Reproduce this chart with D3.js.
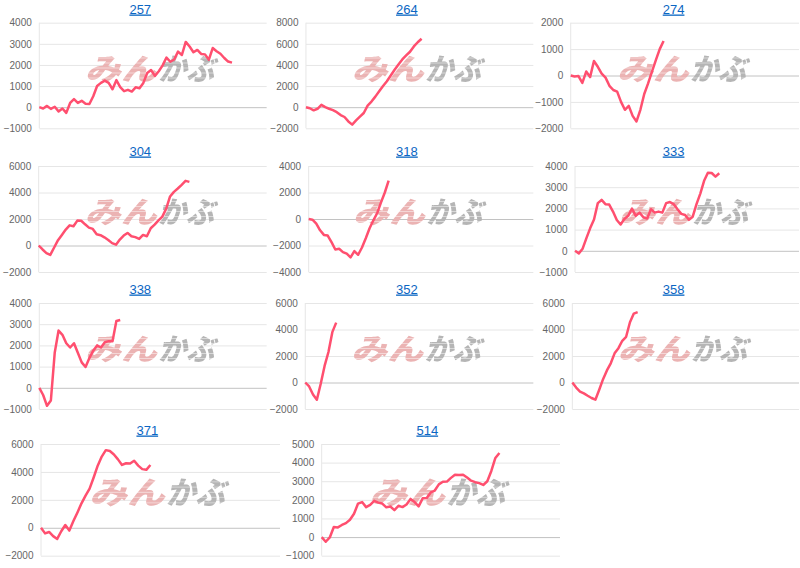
<!DOCTYPE html>
<html>
<head>
<meta charset="utf-8">
<script src="https://cdn.jsdelivr.net/npm/d3@7"></script>
<style>
body { margin: 0; background: #fff; }
svg { display: block; font-family: "Liberation Sans", Arial, sans-serif; }
</style>
</head>
<body>
<svg id="chart" width="800" height="568"></svg>
<script>
// titles of the small charts, left to right, top to bottom
var titles = ["257", "264", "274", "304", "318", "333", "338", "352", "358", "371", "514"];

// number of x slots shared by every chart
var slotCount = 60;

// cumulative values, one per slot
var s257 = [0, -60, 60, -80, 20, -200, -60, -270, 200, 380, 200, 300, 160, 150, 520, 1000, 1150, 1260, 1150, 850,
    1280, 950, 760, 820, 740, 940, 900, 1150, 1620, 1760, 1480, 1700, 1980, 2350, 2150, 2260, 2630, 2470, 3090, 2870,
    2600, 2710, 2520, 2500, 2250, 2800, 2650, 2530, 2330, 2160, 2110];
var s264 = [0, -100, -300, -150, 220, 0, -150, -280, -470, -750, -930, -1350, -1650, -1250, -900, -550, 150, 530,
    1000, 1500, 2000, 2450, 3000, 3550, 4050, 4520, 4900, 5250, 5750, 6150, 6480];
var s274 = [0, -40, -20, -280, 150, -60, 550, 330, 70, -80, -390, -550, -610, -1000, -1300, -1150, -1530, -1740,
    -1300, -700, -300, 150, 580, 1000, 1310];
var s304 = [0, -300, -570, -710, -150, 400, 800, 1200, 1520, 1450, 1880, 1870, 1600, 1350, 1250, 850, 780, 620, 420,
    180, 60, 450, 750, 950, 700, 630, 500, 800, 700, 1300, 1570, 1900, 2180, 2780, 3700, 4050, 4300, 4580, 4880, 4800];
var s318 = [0, -50, -350, -850, -1200, -1250, -1750, -2300, -2250, -2500, -2620, -2900, -2420, -2700, -2150, -1450,
    -700, -100, 450, 1250, 2000, 2900];
var s333 = [0, -120, 100, 600, 1070, 1480, 2250, 2400, 2200, 2180, 1850, 1450, 1240, 1500, 1650, 1990, 1650, 1800,
    1580, 1520, 1960, 1800, 1850, 1800, 2250, 2300, 2200, 1960, 1740, 1690, 1460, 1610, 2200, 2700, 3300, 3680, 3670,
    3500, 3660];
var s338 = [0, -340, -850, -600, 1650, 2700, 2500, 2100, 1900, 2100, 1650, 1200, 980, 1400, 1750, 2000, 1900, 2150,
    2200, 2200, 3150, 3200];
var s352 = [0, -300, -900, -1300, -100, 1250, 2300, 3800, 4520];
var s358 = [0, -380, -680, -820, -1000, -1170, -1300, -550, 250, 910, 1450, 2200, 2590, 3150, 3450, 4550, 5200, 5310];
var s371 = [0, -400, -300, -600, -800, -250, 200, -200, 480, 1100, 1750, 2300, 2800, 3600, 4450, 5100, 5560, 5500,
    5250, 4900, 4500, 4620, 4600, 4800, 4450, 4200, 4150, 4500];
var s514 = [0, -250, -20, 540, 520, 650, 750, 930, 1250, 1800, 1880, 1610, 1730, 1950, 1850, 1800, 1600, 1640, 1450,
    1680, 1610, 1750, 2050, 1880, 1650, 2080, 2100, 2400, 2500, 2830, 2970, 2980, 3180, 3350, 3340, 3350, 3200, 3030,
    2950, 2900, 2800, 3000, 3550, 4250, 4520];
var seriesList = [s257, s264, s274, s304, s318, s333, s338, s352, s358, s371, s514];

// y tick labels per chart
var yTicks = [
    [-1000, 0, 1000, 2000, 3000, 4000],
    [-2000, 0, 2000, 4000, 6000, 8000],
    [-2000, -1000, 0, 1000, 2000],
    [-2000, 0, 2000, 4000, 6000],
    [-4000, -2000, 0, 2000, 4000],
    [-1000, 0, 1000, 2000, 3000, 4000],
    [-1000, 0, 1000, 2000, 3000, 4000],
    [-2000, 0, 2000, 4000, 6000],
    [-2000, 0, 2000, 4000, 6000],
    [-2000, 0, 2000, 4000, 6000],
    [-1000, 0, 1000, 2000, 3000, 4000, 5000]
];

// layout (pixels)
var rowTop = [22.7, 166, 303, 444];
var rowBottom = [128.3, 272, 409, 555.7];
var titleBase = [13.5, 155.5, 293.5, 434.5];
var axisOffset = [39.3, 39.3, 37.4, 38.7, 42, 41.7, 39.3, 38.6, 39, 41, 41.7];

var svg = d3.select("#chart");

// faint horizontal stripes for the logo watermark
var defs = svg.append("defs");
var pat = defs.append("pattern")
    .attr("id", "stripes")
    .attr("patternUnits", "userSpaceOnUse")
    .attr("width", 8).attr("height", 5);
pat.append("rect").attr("width", 8).attr("height", 5).attr("fill", "#fff");
pat.append("rect").attr("y", 4).attr("width", 8).attr("height", 1).attr("fill", "#888");
defs.append("mask").attr("id", "wmMask")
    .attr("maskUnits", "userSpaceOnUse")
    .attr("x", -100).attr("y", -40).attr("width", 200).attr("height", 80)
    .append("rect")
    .attr("x", -100).attr("y", -40).attr("width", 200).attr("height", 80)
    .attr("fill", "url(#stripes)");

seriesList.forEach(function (values, k) {
    var row = Math.floor(k / 3);
    var col = k % 3;
    var panelW = row < 3 ? 800 / 3 : 280;
    var left = col * panelW;
    var right = left + panelW - (col == 2 ? 1 : 0);
    var x0 = left + axisOffset[k];
    var top = rowTop[row], bottom = rowBottom[row];
    var ticks = yTicks[k];

    var xScale = d3.scaleLinear().domain([0, slotCount - 1]).range([x0, right]);
    var yScale = d3.scaleLinear().domain(d3.extent(ticks)).range([bottom, top]);

    var g = svg.append("g");

    // title link
    g.append("text")
        .attr("x", left + panelW * 0.526)
        .attr("y", titleBase[row])
        .attr("text-anchor", "middle")
        .style("font-size", "13px")
        .style("fill", "#0b66c3")
        .style("text-decoration", "underline")
        .text(titles[k]);

    // y axis with gridlines
    var yAxis = d3.axisLeft(yScale)
        .tickValues(ticks)
        .tickSize(-(right - x0))
        .tickPadding(7.5)
        .tickFormat(d3.format("d"));
    var ax = g.append("g")
        .attr("transform", "translate(" + x0 + ",0)")
        .call(yAxis);
    ax.select(".domain").remove();
    ax.selectAll("line")
        .attr("stroke", function (d) { return d === 0 ? "#c2c2c2" : "#e6e6e6"; });
    ax.selectAll("text")
        .style("font-size", "10px")
        .style("fill", "#666")
        .style("font-family", "'Liberation Sans', Arial, sans-serif");

    // left axis line
    g.append("line")
        .attr("x1", x0).attr("x2", x0)
        .attr("y1", top).attr("y2", bottom)
        .attr("stroke", "#e6e6e6");

    // watermark
    var scale = panelW / (800 / 3);
    var cx = (x0 + right) / 2;
    var cy = (top + bottom) / 2 - 7;
    var wm = g.append("g")
        .attr("transform", "translate(" + cx + "," + cy + ") scale(" + scale + ")")
        .append("g")
        .attr("mask", "url(#wmMask)")
        .append("g")
        .attr("transform", "skewX(-14)")
        .style("font-family", "'Noto Sans CJK JP', sans-serif")
        .style("font-weight", "900")
        .style("font-size", "30px");
    wm.append("text")
        .attr("x", -65).attr("y", 11)
        .attr("textLength", 72).attr("lengthAdjust", "spacingAndGlyphs")
        .style("fill", "#ebb3b3")
        .text("みん");
    wm.append("text")
        .attr("x", 8).attr("y", 11)
        .attr("textLength", 56).attr("lengthAdjust", "spacingAndGlyphs")
        .style("fill", "#b5b5b5")
        .text("かぶ");

    // the line
    var line = d3.line()
        .x(function (d, i) { return xScale(i); })
        .y(function (d) { return yScale(d); });
    g.append("path")
        .datum(values)
        .attr("d", line)
        .attr("fill", "none")
        .attr("stroke", "#ff4f6f")
        .attr("stroke-width", 2.5)
        .attr("stroke-linejoin", "round");
});
</script>
</body>
</html>
